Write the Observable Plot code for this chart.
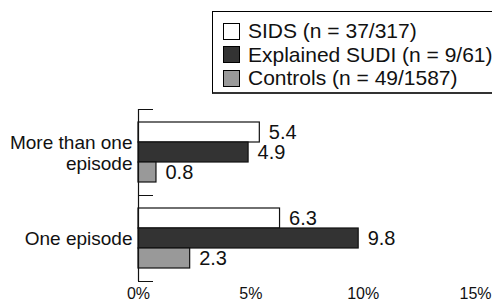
<!DOCTYPE html>
<html>
<head>
<meta charset="utf-8">
<script src="https://cdn.jsdelivr.net/npm/d3@7"></script>
<script src="https://cdn.jsdelivr.net/npm/@observablehq/plot@0.6"></script>
<style>
  html, body { margin: 0; padding: 0; background: #fff; }
  #wrap { position: relative; width: 492px; height: 302px; overflow: hidden; font-family: "Liberation Sans", Arial, Helvetica, sans-serif; }
  #legend { position: absolute; left: 212px; top: 11px; width: 300px; height: 80px; border: 1px solid #000; border-bottom: 2px solid #333; background: #fff; box-sizing: content-box; }
  .row { position: absolute; left: 10px; height: 22px; display: flex; align-items: center; font-size: 21px; color: #111; white-space: nowrap; }
  .sw { width: 15px; height: 15px; border: 1px solid #000; margin-right: 8px; flex: none; }
</style>
</head>
<body>
<div id="wrap"><div id="chart"></div><div id="legend"></div></div>
<script>
const categories = ["More than one episode", "One episode"];
const categoryLabels = ["More than one\nepisode", "One episode"];
const series = ["SIDS (n = 37/317)", "Explained SUDI (n = 9/61)", "Controls (n = 49/1587)"];
const moreThanOneEpisode = [5.4, 4.9, 0.8];
const oneEpisode = [6.3, 9.8, 2.3];
const xTicks = [0, 5, 10, 15];
const colors = ["#ffffff", "#333333", "#999999"];

const valuesByCategory = [moreThanOneEpisode, oneEpisode];
const data = categories.flatMap((c, i) =>
  valuesByCategory[i].map((v, j) => ({category: c, series: series[j], value: v}))
);

const chart = Plot.plot({
  width: 492,
  height: 302,
  marginLeft: 138,
  marginRight: 17,
  marginTop: 108,
  marginBottom: 21,
  style: {fontFamily: "'Liberation Sans', Arial, Helvetica, sans-serif", background: "#fff", color: "#111"},
  x: {domain: [0, 15], axis: null},
  y: {domain: series, paddingInner: 0, paddingOuter: 0.65, axis: null},
  fy: {domain: categories, padding: 0, axis: null},
  color: {domain: series, range: colors},
  marks: [
    Plot.barX(data, {x: "value", y: "series", fy: "category", fill: "series", stroke: "#111", strokeWidth: 1.2}),
    Plot.text(data, {x: "value", y: "series", fy: "category", text: d => d.value.toFixed(1), textAnchor: "start", dx: 9, fontSize: 20, fill: "#111"}),
    Plot.ruleX([0], {stroke: "#111", strokeWidth: 1.2}),
    Plot.frame({anchor: "top", insetRight: 323, stroke: "#111"}),
    Plot.frame({anchor: "bottom", insetRight: 323, stroke: "#111"}),
    Plot.axisX({anchor: "bottom", ticks: xTicks, tickSize: 0, tickPadding: 6, tickFormat: d => d + "%", fontSize: 16, label: null, line: true, stroke: "#111"}),
    Plot.axisFy({anchor: "left", tickSize: 0, tickPadding: 6, fontSize: 19, lineHeight: 1.12, label: null, tickFormat: d => categoryLabels[categories.indexOf(d)]})
  ]
});
document.getElementById("chart").appendChild(chart);

const legend = document.getElementById("legend");
series.forEach((s, i) => {
  const row = document.createElement("div");
  row.className = "row";
  row.style.top = (8 + i * 23.5) + "px";
  const sw = document.createElement("span");
  sw.className = "sw";
  sw.style.background = colors[i];
  const label = document.createElement("span");
  label.textContent = s;
  row.appendChild(sw);
  row.appendChild(label);
  legend.appendChild(row);
});
</script>
</body>
</html>
